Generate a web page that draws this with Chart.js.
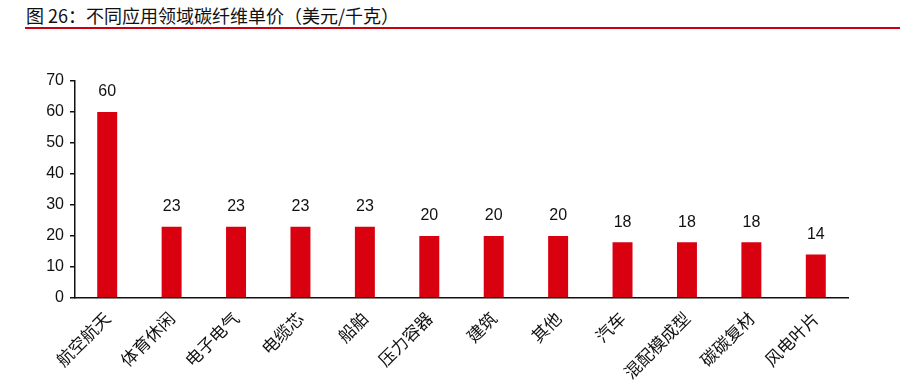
<!DOCTYPE html>
<html>
<head>
<meta charset="utf-8">
<script src="https://cdn.jsdelivr.net/npm/chart.js@4/dist/chart.umd.min.js"></script>
<style>
  html, body { margin: 0; padding: 0; background: #fff; }
  #wrap { position: relative; width: 900px; height: 389px; overflow: hidden; }
  #title {
    position: absolute; left: 25px; top: 4px; width: 875px;
    font-family: "Noto Sans CJK SC", "Liberation Sans", sans-serif;
    font-size: 18px; color: #111; line-height: 23px;
    padding-left: 1px; border-bottom: 2px solid #c8000f;
  }
  canvas { position: absolute; left: 0; top: 0; }
</style>
</head>
<body>
<div id="wrap">
  <div id="title">图 26：不同应用领域碳纤维单价（美元/千克）</div>
  <canvas id="c" width="900" height="389"></canvas>
</div>
<script>
// categories and prices (USD/kg)
const categories = ["航空航天", "体育休闲", "电子电气", "电缆芯", "船舶", "压力容器", "建筑", "其他", "汽车", "混配模成型", "碳碳复材", "风电叶片"];
const prices = [60, 23, 23, 23, 23, 20, 20, 20, 18, 18, 18, 14];
const yTicks = [0, 10, 20, 30, 40, 50, 60, 70];

const RED = "#d9000f";

// value labels above each bar
const barLabels = {
  id: "barLabels",
  afterDatasetsDraw(chart) {
    const ctx = chart.ctx;
    const meta = chart.getDatasetMeta(0);
    ctx.save();
    ctx.font = "16px 'Liberation Sans', Arial, sans-serif";
    ctx.fillStyle = "#111";
    ctx.textAlign = "center";
    ctx.textBaseline = "middle";
    meta.data.forEach((bar, i) => {
      ctx.fillText(String(prices[i]), bar.x, bar.y - 20);
    });
    ctx.restore();
  }
};

new Chart(document.getElementById("c"), {
  type: "bar",
  data: {
    labels: categories,
    datasets: [{
      data: prices,
      backgroundColor: RED,
      borderWidth: 0,
      categoryPercentage: 1,
      barPercentage: 0.31
    }]
  },
  options: {
    responsive: false,
    animation: false,
    layout: { padding: { top: 81, right: 52, bottom: 0, left: 0 } },
    plugins: {
      legend: { display: false },
      tooltip: { enabled: false }
    },
    scales: {
      x: {
        grid: { display: false },
        border: { display: true, color: "#111", width: 1.5 },
        ticks: {
          color: "#111",
          font: { family: "'Noto Sans CJK SC', sans-serif", size: 17 },
          minRotation: 45,
          maxRotation: 45,
          padding: 2
        },
        afterFit(scale) { scale.height = 91; }
      },
      y: {
        min: 0,
        max: 70,
        afterBuildTicks(scale) { scale.ticks = yTicks.map(v => ({ value: v })); },
        grid: { display: true, drawOnChartArea: false, drawTicks: true, tickLength: 5, color: "#111", lineWidth: 1.5 },
        border: { display: true, color: "#111", width: 1.5 },
        ticks: {
          color: "#111",
          font: { family: "'Liberation Sans', Arial, sans-serif", size: 16 },
          padding: 6
        },
        afterFit(scale) { scale.width = 75; }
      }
    }
  },
  plugins: [barLabels]
});
</script>
</body>
</html>
